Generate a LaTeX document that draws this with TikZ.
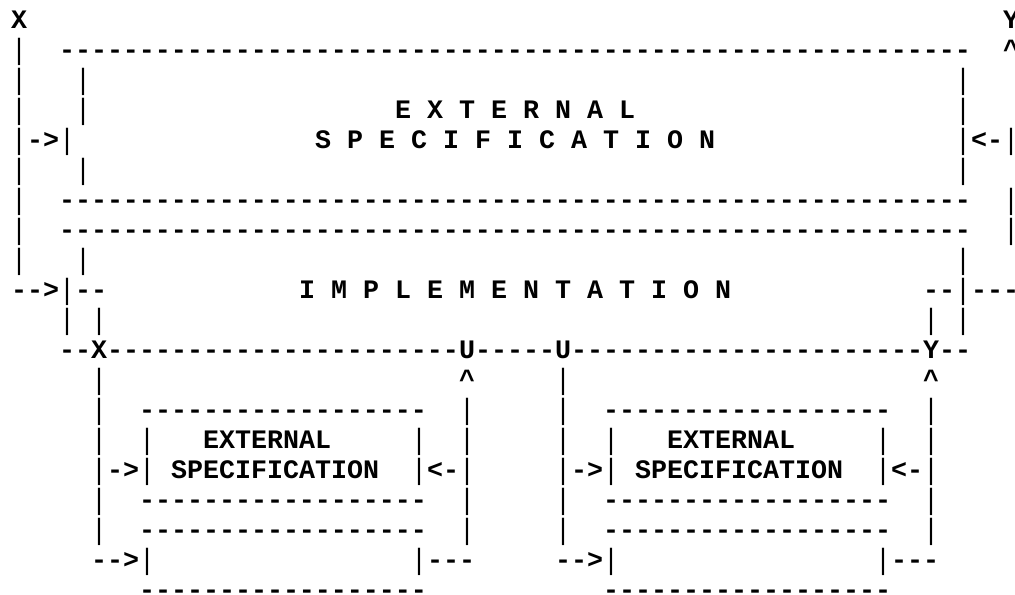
\documentclass[tikz,border=0pt]{standalone}
\usepackage{fontspec}
\setmonofont{Liberation Mono}
% a single hyphen that never joins its neighbour into a dash ligature
\newcommand\hy{-\kern0pt}
% a slim vertical bar, a little taller than the font's own
\newcommand\vb{{\mdseries\raisebox{-0.04em}{\scalebox{1}[1.1]{|}}}}
\ExplSyntaxOn
\NewDocumentCommand\dashrun{m}{\prg_replicate:nn{#1}{-\kern0pt}}
\ExplSyntaxOff
% character grid: 16 units per column, 30 units per line
\newcommand\glyphrun[4]{\node[glyphs] (#1) at ({11+16*#2},{28+30*#3}) {#4};}
\begin{document}
\begin{tikzpicture}[x=0.5pt,y=-0.5pt,
  glyphs/.style={inner sep=0pt, outer sep=0pt, anchor=base west,
    font=\ttfamily\bfseries\fontsize{13.333pt}{15pt}\selectfont}]
\fill[white] (0,0) rectangle (1015,594);
\useasboundingbox (0,0) rectangle (1015,594);

% ---- upper level: external specification over implementation
\glyphrun{X}{0}{0}{X}
\glyphrun{Y}{62}{0}{Y}
\glyphrun{inL1}{0}{1}{\vb}
\glyphrun{specTop}{3}{1}{\dashrun{57}}
\glyphrun{outR1}{62}{1}{\textasciicircum}
\foreach \r in {2,3,5,8}{
  \glyphrun{sideL\r}{0}{\r}{\vb~~~\vb}
  \glyphrun{sideR\r}{59}{\r}{\vb~~~\vb}
}
\glyphrun{extTitle}{24}{3}{E X T E R N A L}
\glyphrun{specIn}{0}{4}{\vb\hy>\vb}
\glyphrun{specTitle}{19}{4}{S P E C I F I C A T I O N}
\glyphrun{specOut}{59}{4}{\vb<\hy\vb}
\foreach \r in {6,7}{
  \glyphrun{sepL\r}{0}{\r}{\vb}
  \glyphrun{sep\r}{3}{\r}{\dashrun{57}}
  \glyphrun{sepR\r}{62}{\r}{\vb}
}
\glyphrun{implIn}{0}{9}{\hy\hy>\vb\hy\hy}
\glyphrun{implTitle}{18}{9}{I M P L E M E N T A T I O N}
\glyphrun{implOut}{57}{9}{\hy\hy\vb\hy\hy\hy}
\glyphrun{implL10}{3}{10}{\vb~\vb}
\glyphrun{implR10}{57}{10}{\vb~\vb}

% ---- bus joining the two lower components
\glyphrun{busA}{3}{11}{\dashrun{2}}
\glyphrun{busX}{5}{11}{X}
\glyphrun{busB}{6}{11}{\dashrun{22}}
\glyphrun{busU1}{28}{11}{U}
\glyphrun{busC}{29}{11}{\dashrun{5}}
\glyphrun{busU2}{34}{11}{U}
\glyphrun{busD}{35}{11}{\dashrun{22}}
\glyphrun{busY}{57}{11}{Y}
\glyphrun{busE}{58}{11}{\dashrun{2}}
\glyphrun{downX}{5}{12}{\vb}
\glyphrun{upU}{28}{12}{\textasciicircum}
\glyphrun{downU}{34}{12}{\vb}
\glyphrun{upY}{57}{12}{\textasciicircum}

% ---- lower level: two components, 29 columns apart
\foreach \k/\c in {a/0,b/29}{
  \pgfmathtruncatemacro\cl{5+\c}
  \pgfmathtruncatemacro\cb{8+\c}
  \pgfmathtruncatemacro\ct{12+\c}
  \pgfmathtruncatemacro\cs{10+\c}
  \pgfmathtruncatemacro\cr{25+\c}
  \pgfmathtruncatemacro\ce{28+\c}
  \foreach \r in {13,16,17}{
    \glyphrun{\k wl\r}{\cl}{\r}{\vb}
    \glyphrun{\k line\r}{\cb}{\r}{\dashrun{18}}
    \glyphrun{\k wr\r}{\ce}{\r}{\vb}
  }
  \glyphrun{\k l14}{\cl}{14}{\vb~~\vb}
  \glyphrun{\k ext}{\ct}{14}{EXTERNAL}
  \glyphrun{\k r14}{\cr}{14}{\vb~~\vb}
  \glyphrun{\k in15}{\cl}{15}{\vb\hy>\vb}
  \glyphrun{\k spec}{\cs}{15}{SPECIFICATION}
  \glyphrun{\k out15}{\cr}{15}{\vb<\hy\vb}
  \glyphrun{\k in18}{\cl}{18}{\hy\hy>\vb}
  \glyphrun{\k out18}{\cr}{18}{\vb\hy\hy\hy}
  \glyphrun{\k base}{\cb}{19}{\dashrun{18}}
}
\end{tikzpicture}
\end{document}
